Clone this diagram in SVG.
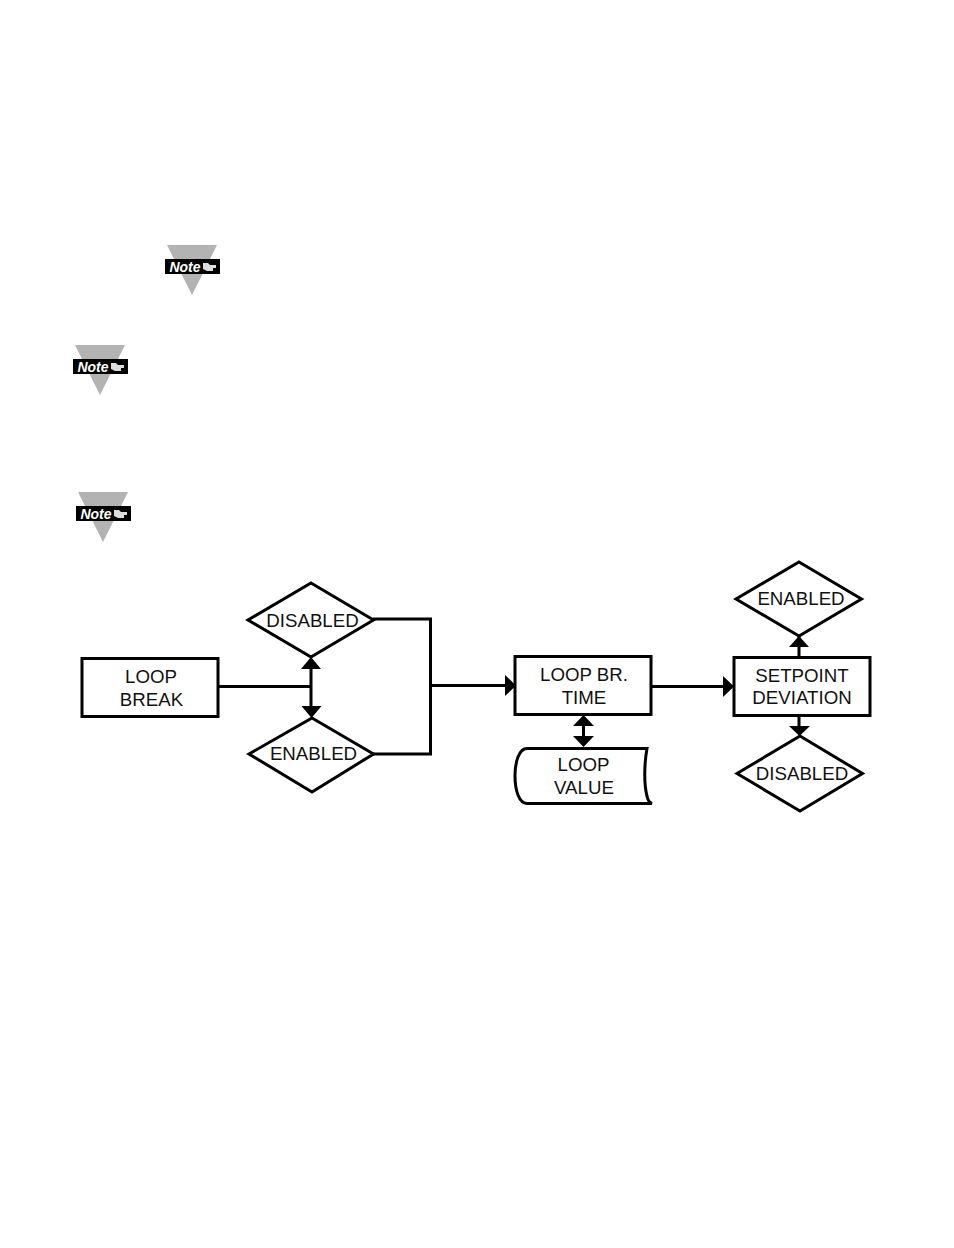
<svg xmlns="http://www.w3.org/2000/svg" width="954" height="1248" viewBox="0 0 954 1248">
<style>
.s{fill:#fff;stroke:#000;stroke-width:3}
.l{fill:none;stroke:#000;stroke-width:3}
.a{fill:#000}
text{font-family:"Liberation Sans",Arial,sans-serif;font-size:18.7px;fill:#111;text-anchor:middle}
.n{font-size:14px;font-weight:bold;font-style:italic;fill:#fff}
.t{fill:#b3b3b3}
.g{fill:#ddd}
</style>
<defs>
<g id="note">
<polygon class="t" points="-25,-21 25,-21 0,29"/>
<rect x="-27" y="-7" width="55" height="15" fill="#000"/>
<text class="n" x="-7" y="5.500">Note</text>
<path d="M11,-3h5l2,2h6v3h-3v3h-6l-4,-2z" class="g"/>
</g>
</defs>
<rect width="954" height="1248" fill="#fff"/>
<g id="note1"><use href="#note" x="192" y="266"/></g>
<g id="note2"><use href="#note" x="100" y="366"/></g>
<g id="note3"><use href="#note" x="103" y="513"/></g>
<g id="connectors">
<path class="l" d="M218,686.500H311M311,668V708"/>
<path class="l" d="M373,619H430.500V754H373"/>
<path class="l" d="M430,685.500H506"/>
<path class="l" d="M651,686.500H724"/>
<path class="l" d="M583.500,724V738"/>
<path class="l" d="M799,636V657M799,716V728"/>
<polygon class="a" points="311,657 321,669 301,669"/>
<polygon class="a" points="311.500,718 301.500,706 321.500,706"/>
<polygon class="a" points="516,685.500 505,675 505,696"/>
<polygon class="a" points="734,686.500 723,676 723,697"/>
<polygon class="a" points="583.500,715 573,726 594,726"/>
<polygon class="a" points="583.500,747 573,736 594,736"/>
<polygon class="a" points="799,636 789,647 809,647"/>
<polygon class="a" points="799.500,736 789,726 810,726"/>
</g>
<g id="loop-break"><rect class="s" x="82" y="658.500" width="136" height="58"/><text x="151" y="683">LOOP</text><text x="151.500" y="706">BREAK</text></g>
<g id="disabled-1"><polygon class="s" points="311,583 373.500,620 311,657 248,620"/><text x="312.500" y="627">DISABLED</text></g>
<g id="enabled-1"><polygon class="s" points="312,718 373.500,754 312,792 249,754"/><text x="313.500" y="760">ENABLED</text></g>
<g id="loop-br-time"><rect class="s" x="515" y="656.500" width="136" height="58"/><text x="584" y="681">LOOP BR.</text><text x="584" y="704">TIME</text></g>
<g id="loop-value"><path class="s" d="M652,803.500H527C519,803.500 515,790 515,776C515,762 519,748.500 527,748.500H647C644,765 644,785 647,796Q648,802 652,803.500Z"/><text x="583.500" y="771">LOOP</text><text x="584" y="794">VALUE</text></g>
<g id="setpoint-deviation"><rect class="s" x="734" y="657.500" width="136" height="58"/><text x="802" y="682">SETPOINT</text><text x="802" y="704">DEVIATION</text></g>
<g id="enabled-2"><polygon class="s" points="799,562 861.500,599 799,636 736,599"/><text x="801" y="605">ENABLED</text></g>
<g id="disabled-2"><polygon class="s" points="800,736 862.500,773.500 800,811 737,773.500"/><text x="802" y="780">DISABLED</text></g>
</svg>
